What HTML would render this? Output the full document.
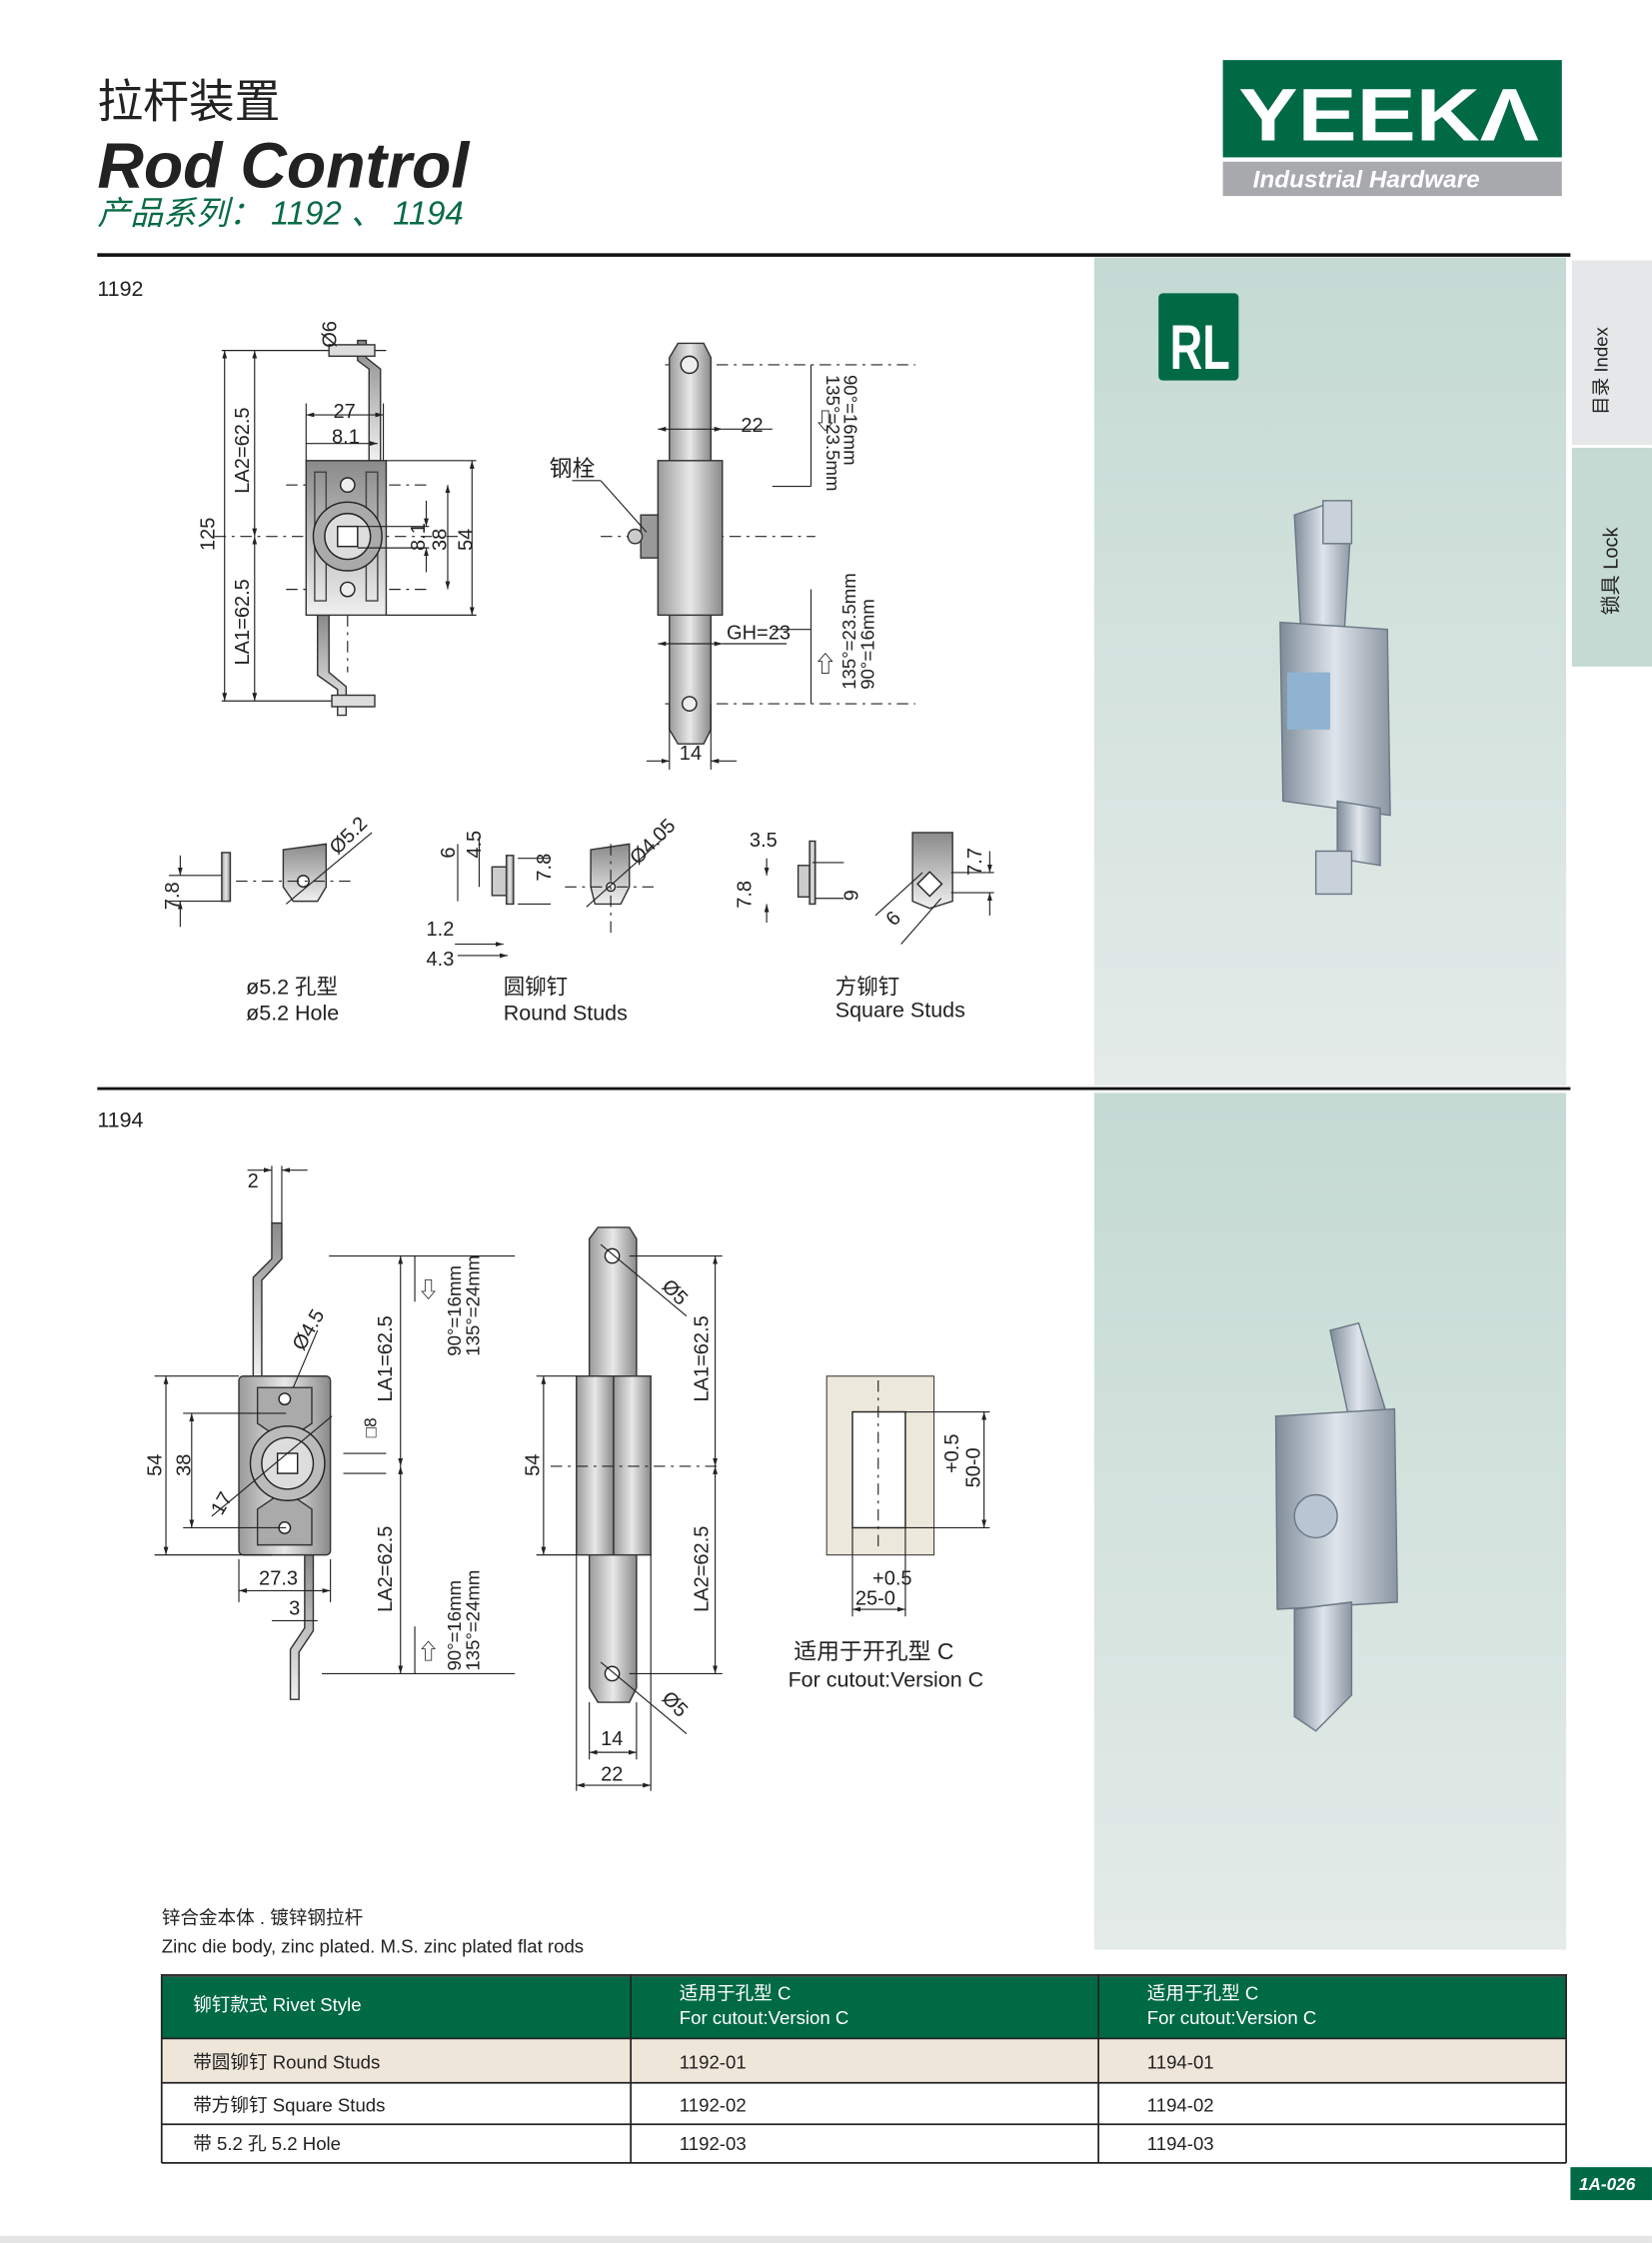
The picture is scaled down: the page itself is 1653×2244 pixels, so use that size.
<!DOCTYPE html>
<html><head><meta charset="utf-8"><style>
html,body{margin:0;padding:0;background:#fff}
svg{display:block}
text{font-family:"Liberation Sans","Noto Sans CJK SC",sans-serif;fill:#222}
.d{stroke:#222;stroke-width:0.8;fill:none}
.c{stroke:#222;stroke-width:0.8;fill:none;stroke-dasharray:8 4 2 4}
.p{stroke:#333;stroke-width:1;fill:url(#g)}
.s{font-size:14px}
</style></head><body>
<svg width="1653" height="2244" viewBox="0 0 1155 1568" xmlns="http://www.w3.org/2000/svg">
<defs>
<linearGradient id="g" x1="0" x2="0" y1="0" y2="1"><stop offset="0" stop-color="#8a8a8a"/><stop offset="1" stop-color="#f0f0f0"/></linearGradient>
<linearGradient id="gh" x1="0" x2="1"><stop offset="0" stop-color="#9a9a9a"/><stop offset="0.5" stop-color="#e8e8e8"/><stop offset="1" stop-color="#8a8a8a"/></linearGradient>
<linearGradient id="bg" x1="0" x2="0" y1="0" y2="1"><stop offset="0" stop-color="#c4dad3"/><stop offset="1" stop-color="#e4ebe9"/></linearGradient>
<linearGradient id="ml" x1="0" x2="1"><stop offset="0" stop-color="#7f8c99"/><stop offset="0.5" stop-color="#dfe5ec"/><stop offset="1" stop-color="#8b96a2"/></linearGradient>
<marker id="a" viewBox="0 0 10 10" refX="10" refY="5" markerWidth="7" markerHeight="7" orient="auto-start-reverse"><path d="M0,2L10,5L0,8z" fill="#222"/></marker>
</defs>
<rect x="0" y="0" width="1155" height="1568" fill="#fff"/>
<!-- header -->
<text x="68" y="82" font-size="32" font-family="Noto Sans CJK SC,sans-serif">拉杆装置</text>
<text x="68" y="131" font-size="45" font-weight="bold" font-style="italic">Rod Control</text>
<text x="68" y="157" font-size="23" font-style="italic" style="fill:#0a6b45">产品系列： 1192 、 1194</text>
<rect x="855" y="42" width="237" height="68" fill="#006a45"/>
<text x="866" y="98" font-size="52" font-weight="bold" style="fill:#fff" textLength="210" lengthAdjust="spacingAndGlyphs">YEEKΛ</text>
<rect x="855" y="113" width="237" height="24" fill="#a7a9ac"/>
<text x="876" y="131" font-size="17" font-weight="bold" font-style="italic" style="fill:#fff">Industrial Hardware</text>
<rect x="68" y="177" width="1030" height="2.5" fill="#111"/>
<!-- right panels -->
<rect x="765" y="180" width="330" height="579" fill="url(#bg)"/>
<rect x="765" y="764" width="330" height="599" fill="url(#bg)"/>
<rect x="1099" y="182" width="56" height="129" fill="#e6e7e8"/>
<rect x="1099" y="313" width="56" height="153" fill="#c4dad3"/>
<text transform="translate(1124,290) rotate(-90)" font-size="13">目录 Index</text>
<text transform="translate(1131,430) rotate(-90)" font-size="14">锁具 Lock</text>
<rect x="810" y="205" width="56" height="61" rx="3" fill="#006a45"/>
<text x="818" y="258" font-size="44" font-weight="bold" style="fill:#fff" textLength="42" lengthAdjust="spacingAndGlyphs">RL</text>
<rect x="68" y="760" width="1030" height="2" fill="#111"/>
<text x="68" y="207" font-size="15">1192</text>
<text x="68" y="788" font-size="15">1194</text>
<!-- product render 1 -->
<g>
<path d="M905,360 L935,350 L945,360 L940,440 L910,450 Z" fill="url(#ml)" stroke="#6b7885"/>
<rect x="925" y="350" width="20" height="30" fill="#c9d1da" stroke="#6b7885"/>
<path d="M895,435 L970,440 L972,570 L897,560 Z" fill="url(#ml)" stroke="#6b7885"/>
<rect x="900" y="470" width="30" height="40" fill="#8fb3d1"/>
<path d="M935,560 L965,565 L965,605 L935,600 Z" fill="url(#ml)" stroke="#6b7885"/>
<rect x="920" y="595" width="25" height="30" fill="#c9d1da" stroke="#6b7885"/>
</g>
<!-- product render 2 -->
<g>
<path d="M930,930 L950,925 L970,990 L965,1000 L945,1000 Z" fill="url(#ml)" stroke="#6b7885"/>
<path d="M892,990 L975,985 L977,1120 L893,1125 Z" fill="url(#ml)" stroke="#6b7885"/>
<circle cx="920" cy="1060" r="15" fill="#b8c6d4" stroke="#6b7885"/>
<path d="M905,1125 L945,1120 L945,1185 L920,1210 L905,1200 Z" fill="url(#ml)" stroke="#6b7885"/>
</g>

<!-- 1192 front view -->
<g>
<line class="d" x1="155" y1="245" x2="270" y2="245"/>
<line class="d" x1="155" y1="490" x2="260" y2="490"/>
<line class="c" x1="150" y1="375" x2="330" y2="375"/>
<line class="c" x1="200" y1="339" x2="300" y2="339"/>
<line class="c" x1="200" y1="412" x2="300" y2="412"/>
<line class="c" x1="243" y1="322" x2="243" y2="470"/>
<line class="d" x1="157" y1="245" x2="157" y2="490" marker-start="url(#a)" marker-end="url(#a)"/>
<line class="d" x1="178" y1="245" x2="178" y2="375" marker-start="url(#a)" marker-end="url(#a)"/>
<line class="d" x1="178" y1="375" x2="178" y2="490" marker-start="url(#a)" marker-end="url(#a)"/>
<text class="s" transform="translate(150,385) rotate(-90)">125</text>
<text class="s" transform="translate(174,345) rotate(-90)">LA2=62.5</text>
<text class="s" transform="translate(174,465) rotate(-90)">LA1=62.5</text>
<path class="p" d="M258,322 L258,258 L250,252 L250,238 L256,238 L256,250 L266,258 L266,322 Z"/>
<rect x="230" y="241" width="32" height="8" fill="#ddd" stroke="#333"/>
<path class="p" d="M222,430 L222,472 L236,482 L236,500 L242,500 L242,480 L230,470 L230,430 Z"/>
<rect x="232" y="486" width="30" height="8" fill="#ddd" stroke="#333"/>
<rect x="214" y="322" width="56" height="108" fill="url(#g)" stroke="#333"/>
<rect x="220" y="330" width="8" height="90" fill="none" stroke="#444"/>
<rect x="256" y="330" width="8" height="90" fill="none" stroke="#444"/>
<circle cx="243" cy="375" r="24" fill="#aaa" stroke="#222"/>
<circle cx="243" cy="375" r="16" fill="#ddd" stroke="#222"/>
<rect x="236" y="368" width="14" height="14" fill="#fff" stroke="#222"/>
<circle cx="243" cy="339" r="5" fill="#eee" stroke="#222"/>
<circle cx="243" cy="412" r="5" fill="#eee" stroke="#222"/>
<line class="d" x1="214" y1="290" x2="268" y2="290" marker-start="url(#a)" marker-end="url(#a)"/>
<line class="d" x1="214" y1="310" x2="264" y2="310" marker-end="url(#a)"/>
<line class="d" x1="214" y1="282" x2="214" y2="322"/><line class="d" x1="268" y1="282" x2="268" y2="322"/>
<text class="s" x="233" y="292">27</text><text class="s" x="232" y="310">8.1</text>
<line class="d" x1="270" y1="322" x2="333" y2="322"/><line class="d" x1="270" y1="430" x2="333" y2="430"/>
<line class="d" x1="250" y1="368" x2="300" y2="368"/><line class="d" x1="250" y1="383" x2="300" y2="383"/>
<line class="d" x1="298" y1="350" x2="298" y2="368" marker-end="url(#a)"/><line class="d" x1="298" y1="400" x2="298" y2="383" marker-end="url(#a)"/>
<line class="d" x1="313" y1="339" x2="313" y2="412" marker-start="url(#a)" marker-end="url(#a)"/>
<line class="d" x1="330" y1="322" x2="330" y2="430" marker-start="url(#a)" marker-end="url(#a)"/>
<text class="s" transform="translate(297,385) rotate(-90)">8.1</text>
<text class="s" transform="translate(312,385) rotate(-90)">38</text>
<text class="s" transform="translate(330,385) rotate(-90)">54</text>
<text class="s" transform="translate(235,243) rotate(-90)">Ø6</text>
</g>

<!-- 1192 side view -->
<g>
<line class="c" x1="465" y1="255" x2="640" y2="255"/>
<line class="c" x1="465" y1="492" x2="640" y2="492"/>
<line class="c" x1="420" y1="375" x2="570" y2="375"/>
<path class="p" d="M468,250 L474,240 L492,240 L497,250 L497,510 L492,520 L474,520 L468,510 Z" fill="url(#gh)" style="fill:url(#gh)"/>
<circle cx="482" cy="255" r="6" fill="#eee" stroke="#222"/>
<circle cx="482" cy="492" r="5" fill="#eee" stroke="#222"/>
<rect x="460" y="322" width="45" height="108" fill="url(#gh)" stroke="#333"/>
<rect x="448" y="360" width="12" height="30" fill="#999" stroke="#333"/>
<circle cx="444" cy="375" r="5" fill="#ccc" stroke="#333"/>
<line class="d" x1="400" y1="336" x2="420" y2="336"/><line class="d" x1="420" y1="336" x2="452" y2="372"/>
<text x="384" y="333" font-size="16">钢栓</text>
<line class="d" x1="460" y1="300" x2="505" y2="300" marker-start="url(#a)" marker-end="url(#a)"/>
<line class="d" x1="505" y1="300" x2="540" y2="300"/>
<text class="s" x="518" y="302">22</text>
<line class="d" x1="460" y1="450" x2="505" y2="450" marker-start="url(#a)" marker-end="url(#a)"/>
<line class="d" x1="505" y1="450" x2="550" y2="450"/>
<text class="s" x="508" y="447">GH=23</text>
<line class="d" x1="468" y1="492" x2="468" y2="538"/><line class="d" x1="497" y1="492" x2="497" y2="538"/>
<line class="d" x1="452" y1="532" x2="468" y2="532" marker-end="url(#a)"/><line class="d" x1="515" y1="532" x2="497" y2="532" marker-end="url(#a)"/>
<text class="s" x="475" y="531">14</text>
<line class="d" x1="567" y1="255" x2="567" y2="340"/><line class="d" x1="540" y1="340" x2="567" y2="340"/>
<line class="d" x1="567" y1="412" x2="567" y2="492"/><line class="d" x1="540" y1="440" x2="567" y2="440"/>
<text x="569" y="300" font-size="16">⇩</text><text x="569" y="470" font-size="16">⇧</text>
<text font-size="13" transform="translate(590,262) rotate(90)">90°=16mm</text>
<text font-size="13" transform="translate(578,262) rotate(90)">135°=23.5mm</text>
<text font-size="13" transform="translate(598,482) rotate(-90)">135°=23.5mm</text>
<text font-size="13" transform="translate(611,482) rotate(-90)">90°=16mm</text>
</g>

<!-- small details -->
<g>
<line class="d" x1="126" y1="598" x2="126" y2="612" marker-end="url(#a)"/><line class="d" x1="126" y1="648" x2="126" y2="630" marker-end="url(#a)"/>
<line class="d" x1="118" y1="612" x2="160" y2="612"/><line class="d" x1="118" y1="630" x2="160" y2="630"/>
<text class="s" transform="translate(125,636) rotate(-90)">7.8</text>
<rect x="155" y="596" width="6" height="34" fill="url(#gh)" stroke="#333"/>
<path d="M198,594 L228,590 L228,620 L222,630 L205,630 L198,620 Z" fill="url(#g)" stroke="#333"/>
<circle cx="212" cy="616" r="4" fill="#fff" stroke="#222"/>
<line class="c" x1="165" y1="616" x2="245" y2="616"/>
<line class="d" x1="200" y1="632" x2="260" y2="582"/>
<text class="s" transform="translate(236,598) rotate(-45)">Ø5.2</text>
<text x="172" y="695" font-size="15">ø5.2 孔型</text>
<text x="172" y="713" font-size="15">ø5.2 Hole</text>

<line class="d" x1="320" y1="590" x2="320" y2="630"/><line class="d" x1="335" y1="585" x2="335" y2="620"/>
<text class="s" transform="translate(318,600) rotate(-90)">6</text><text class="s" transform="translate(336,600) rotate(-90)">4.5</text>
<rect x="344" y="606" width="10" height="20" fill="#ccc" stroke="#333"/>
<rect x="354" y="598" width="5" height="34" fill="url(#gh)" stroke="#333"/>
<line class="d" x1="362" y1="600" x2="385" y2="600"/><line class="d" x1="362" y1="632" x2="385" y2="632"/>
<text class="s" transform="translate(385,616) rotate(-90)">7.8</text>
<line class="d" x1="318" y1="660" x2="352" y2="660" marker-end="url(#a)"/><line class="d" x1="320" y1="668" x2="355" y2="668" marker-end="url(#a)"/>
<text class="s" x="298" y="654">1.2</text><text class="s" x="298" y="675">4.3</text>
<path d="M413,594 L440,590 L440,620 L434,632 L416,632 L413,620 Z" fill="url(#g)" stroke="#333"/>
<circle cx="427" cy="620" r="3" fill="#fff" stroke="#222"/>
<line class="c" x1="395" y1="620" x2="460" y2="620"/><line class="c" x1="427" y1="590" x2="427" y2="655"/>
<line class="d" x1="410" y1="634" x2="465" y2="585"/>
<text class="s" transform="translate(446,605) rotate(-45)">Ø4.05</text>
<text x="352" y="695" font-size="15">圆铆钉</text><text x="352" y="713" font-size="15">Round Studs</text>

<line class="d" x1="536" y1="600" x2="536" y2="612" marker-end="url(#a)"/><line class="d" x1="536" y1="645" x2="536" y2="632" marker-end="url(#a)"/>
<text class="s" transform="translate(525,635) rotate(-90)">7.8</text>
<text class="s" x="524" y="592">3.5</text>
<rect x="558" y="605" width="8" height="22" fill="#ccc" stroke="#333"/>
<rect x="566" y="588" width="4" height="44" fill="url(#gh)" stroke="#333"/>
<line class="d" x1="568" y1="603" x2="590" y2="603"/><line class="d" x1="570" y1="628" x2="590" y2="628"/>
<text class="s" transform="translate(590,622) rotate(90)">6</text>
<path d="M638,582 L666,582 L666,630 L650,635 L638,630 Z" fill="url(#g)" stroke="#333"/>
<rect x="644" y="612" width="12" height="12" transform="rotate(45 650 618)" fill="#fff" stroke="#222"/>
<line class="d" x1="612" y1="640" x2="645" y2="610"/><line class="d" x1="630" y1="660" x2="658" y2="628"/>
<text class="s" transform="translate(625,648) rotate(-45)">6</text>
<line class="d" x1="665" y1="610" x2="695" y2="610"/><line class="d" x1="665" y1="624" x2="695" y2="624"/>
<line class="d" x1="692" y1="595" x2="692" y2="610" marker-end="url(#a)"/><line class="d" x1="692" y1="640" x2="692" y2="624" marker-end="url(#a)"/>
<text class="s" transform="translate(686,612) rotate(-90)">7.7</text>
<text x="584" y="695" font-size="15">方铆钉</text><text x="584" y="711" font-size="15">Square Studs</text>
</g>

<!-- 1194 front -->
<g>
<line class="d" x1="190" y1="815" x2="190" y2="855"/><line class="d" x1="197" y1="815" x2="197" y2="855"/>
<line class="d" x1="173" y1="818" x2="190" y2="818" marker-end="url(#a)"/><line class="d" x1="215" y1="818" x2="197" y2="818" marker-end="url(#a)"/>
<text class="s" x="173" y="830">2</text>
<path class="p" d="M190,855 L197,855 L197,880 L183,895 L183,962 L177,962 L177,893 L190,880 Z"/>
<path class="p" d="M213,1087 L219,1087 L219,1140 L209,1155 L209,1188 L203,1188 L203,1153 L213,1138 Z"/>
<rect x="167" y="962" width="64" height="125" rx="3" fill="url(#gh)" stroke="#333"/>
<path d="M180,970 L218,970 L218,995 L199,1008 L180,995 Z" fill="#aaa" stroke="#333"/>
<path d="M180,1080 L218,1080 L218,1055 L199,1042 L180,1055 Z" fill="#aaa" stroke="#333"/>
<circle cx="199" cy="978" r="4" fill="#fff" stroke="#222"/><circle cx="199" cy="1068" r="4" fill="#fff" stroke="#222"/>
<circle cx="201" cy="1023" r="26" fill="#bbb" stroke="#222"/><circle cx="201" cy="1023" r="18" fill="#ddd" stroke="#222"/>
<rect x="194" y="1016" width="14" height="14" fill="#fff" stroke="#222"/>
<line class="d" x1="148" y1="1060" x2="232" y2="990"/><line class="d" x1="205" y1="970" x2="222" y2="930"/>
<text class="s" transform="translate(155,1060) rotate(-60)">17</text>
<text class="s" transform="translate(212,945) rotate(-60)">Ø4.5</text>
<line class="d" x1="108" y1="962" x2="167" y2="962"/><line class="d" x1="108" y1="1087" x2="190" y2="1087"/>
<line class="d" x1="128" y1="988" x2="200" y2="988"/><line class="d" x1="128" y1="1068" x2="200" y2="1068"/>
<line class="d" x1="116" y1="962" x2="116" y2="1087" marker-start="url(#a)" marker-end="url(#a)"/>
<line class="d" x1="134" y1="988" x2="134" y2="1068" marker-start="url(#a)" marker-end="url(#a)"/>
<text class="s" transform="translate(113,1032) rotate(-90)">54</text><text class="s" transform="translate(133,1032) rotate(-90)">38</text>
<line class="d" x1="167" y1="1090" x2="167" y2="1120"/><line class="d" x1="231" y1="1090" x2="231" y2="1120"/>
<line class="d" x1="167" y1="1112" x2="231" y2="1112" marker-start="url(#a)" marker-end="url(#a)"/>
<text class="s" x="181" y="1108">27.3</text>
<text class="s" x="202" y="1129">3</text>
<line class="d" x1="190" y1="1133" x2="222" y2="1133"/>
<line class="d" x1="240" y1="1016" x2="270" y2="1016"/><line class="d" x1="240" y1="1030" x2="270" y2="1030"/>
<text font-size="12" transform="translate(263,1005) rotate(-90)">□8</text>
<line class="d" x1="230" y1="878" x2="360" y2="878"/><line class="d" x1="225" y1="1170" x2="360" y2="1170"/>
<line class="d" x1="280" y1="878" x2="280" y2="1025" marker-start="url(#a)" marker-end="url(#a)"/>
<line class="d" x1="280" y1="1025" x2="280" y2="1170" marker-start="url(#a)" marker-end="url(#a)"/>
<text class="s" transform="translate(274,980) rotate(-90)">LA1=62.5</text>
<text class="s" transform="translate(274,1127) rotate(-90)">LA2=62.5</text>
<line class="d" x1="290" y1="878" x2="290" y2="910"/><line class="d" x1="290" y1="1137" x2="290" y2="1170"/>
<text x="292" y="907" font-size="15">⇩</text><text x="292" y="1160" font-size="15">⇧</text>
<text font-size="13" transform="translate(322,948) rotate(-90)">90°=16mm</text>
<text font-size="13" transform="translate(335,948) rotate(-90)">135°=24mm</text>
<text font-size="13" transform="translate(322,1168) rotate(-90)">90°=16mm</text>
<text font-size="13" transform="translate(335,1168) rotate(-90)">135°=24mm</text>
</g>

<!-- 1194 side -->
<g>
<path d="M412,866 L418,858 L440,858 L445,866 L445,1180 L440,1190 L418,1190 L412,1180 Z" fill="url(#gh)" stroke="#333"/>
<circle cx="428" cy="878" r="5" fill="#fff" stroke="#222"/><circle cx="428" cy="1170" r="5" fill="#fff" stroke="#222"/>
<rect x="403" y="962" width="26" height="125" fill="url(#gh)" stroke="#333"/>
<rect x="429" y="962" width="26" height="125" fill="url(#gh)" stroke="#333"/>
<line class="d" x1="440" y1="878" x2="505" y2="878"/><line class="d" x1="440" y1="1170" x2="505" y2="1170"/>
<line class="c" x1="385" y1="1025" x2="505" y2="1025"/>
<line class="d" x1="500" y1="878" x2="500" y2="1025" marker-start="url(#a)" marker-end="url(#a)"/>
<line class="d" x1="500" y1="1025" x2="500" y2="1170" marker-start="url(#a)" marker-end="url(#a)"/>
<text class="s" transform="translate(495,980) rotate(-90)">LA1=62.5</text>
<text class="s" transform="translate(495,1127) rotate(-90)">LA2=62.5</text>
<line class="d" x1="375" y1="962" x2="403" y2="962"/><line class="d" x1="375" y1="1087" x2="403" y2="1087"/>
<line class="d" x1="380" y1="962" x2="380" y2="1087" marker-start="url(#a)" marker-end="url(#a)"/>
<text class="s" transform="translate(377,1032) rotate(-90)">54</text>
<line class="d" x1="420" y1="870" x2="480" y2="920"/><line class="d" x1="420" y1="1162" x2="480" y2="1212"/>
<text class="s" transform="translate(462,900) rotate(45)">Ø5</text><text class="s" transform="translate(462,1188) rotate(45)">Ø5</text>
<line class="d" x1="412" y1="1190" x2="412" y2="1230"/><line class="d" x1="445" y1="1190" x2="445" y2="1230"/>
<line class="d" x1="403" y1="1087" x2="403" y2="1252"/><line class="d" x1="455" y1="1087" x2="455" y2="1252"/>
<line class="d" x1="412" y1="1225" x2="445" y2="1225" marker-start="url(#a)" marker-end="url(#a)"/>
<line class="d" x1="403" y1="1248" x2="455" y2="1248" marker-start="url(#a)" marker-end="url(#a)"/>
<text class="s" x="420" y="1220">14</text><text class="s" x="420" y="1245">22</text>
</g>

<!-- cutout -->
<g>
<rect x="578" y="962" width="75" height="125" fill="#ece9dc" stroke="#444" stroke-width="0.8"/>
<rect x="596" y="987" width="37" height="81" fill="#fff" stroke="#222"/>
<line class="c" x1="614" y1="965" x2="614" y2="1085"/>
<line class="d" x1="633" y1="987" x2="692" y2="987"/><line class="d" x1="633" y1="1068" x2="692" y2="1068"/>
<line class="d" x1="688" y1="987" x2="688" y2="1068" marker-start="url(#a)" marker-end="url(#a)"/>
<text class="s" transform="translate(670,1030) rotate(-90)">+0.5</text>
<text class="s" transform="translate(685,1040) rotate(-90)">50-0</text>
<line class="d" x1="596" y1="1068" x2="596" y2="1130"/><line class="d" x1="633" y1="1068" x2="633" y2="1130"/>
<line class="d" x1="596" y1="1125" x2="633" y2="1125" marker-start="url(#a)" marker-end="url(#a)"/>
<text class="s" x="610" y="1108">+0.5</text><text class="s" x="598" y="1122">25-0</text>
<text x="555" y="1160" font-size="16">适用于开孔型 C</text>
<text x="551" y="1179" font-size="15">For cutout:Version C</text>
</g>

<!-- notes -->
<text x="113" y="1345" font-size="13">锌合金本体 . 镀锌钢拉杆</text>
<text x="113" y="1365" font-size="13">Zinc die  body, zinc plated. M.S. zinc plated  flat rods</text>

<!-- table -->
<rect x="113" y="1380" width="982" height="2" fill="#333"/>
<rect x="113" y="1382" width="982" height="43" fill="#006a45"/>
<rect x="113" y="1425" width="982" height="31" fill="#efe6da"/>
<g stroke="#222" stroke-width="1.2">
<line x1="113" y1="1425" x2="1095" y2="1425"/><line x1="113" y1="1456" x2="1095" y2="1456"/>
<line x1="113" y1="1485" x2="1095" y2="1485"/><line x1="113" y1="1512" x2="1095" y2="1512"/>
<line x1="113" y1="1380" x2="113" y2="1512"/><line x1="1095" y1="1380" x2="1095" y2="1512"/>
<line x1="441" y1="1380" x2="441" y2="1512"/><line x1="768" y1="1380" x2="768" y2="1512"/>
</g>
<g font-size="13">
<text x="135" y="1406" style="fill:#fff">铆钉款式 Rivet Style</text>
<text x="475" y="1398" style="fill:#fff">适用于孔型 C</text><text x="475" y="1415" style="fill:#fff">For cutout:Version C</text>
<text x="802" y="1398" style="fill:#fff">适用于孔型 C</text><text x="802" y="1415" style="fill:#fff">For cutout:Version C</text>
<text x="135" y="1446">带圆铆钉 Round Studs</text><text x="475" y="1446">1192-01</text><text x="802" y="1446">1194-01</text>
<text x="135" y="1476">带方铆钉 Square Studs</text><text x="475" y="1476">1192-02</text><text x="802" y="1476">1194-02</text>
<text x="135" y="1503">带 5.2 孔 5.2 Hole</text><text x="475" y="1503">1192-03</text><text x="802" y="1503">1194-03</text>
</g>
<rect x="1098" y="1515" width="57" height="23" fill="#006a45"/>
<text x="1104" y="1531" font-size="12" font-weight="bold" font-style="italic" style="fill:#fff">1A-026</text>
<rect x="0" y="1563" width="1155" height="5" fill="#e5e5e5"/>
</svg>
</body></html>
